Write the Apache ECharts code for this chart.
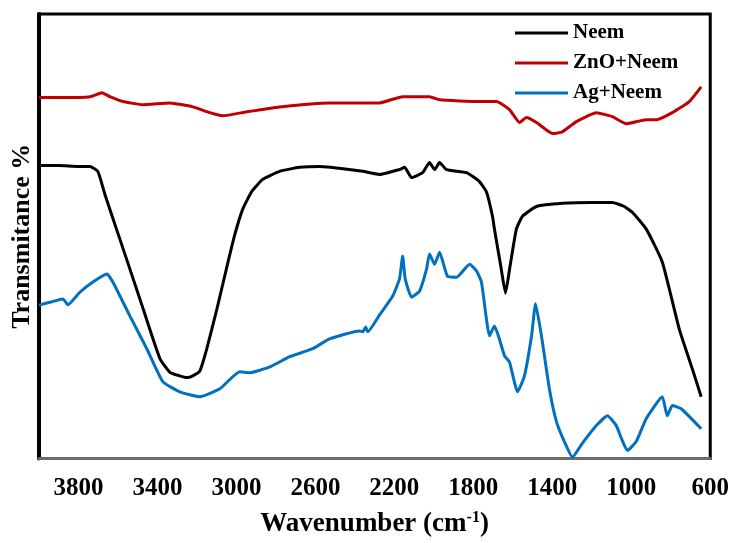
<!DOCTYPE html>
<html>
<head>
<meta charset="utf-8">
<script src="https://cdn.jsdelivr.net/npm/echarts@6/dist/echarts.min.js"></script>
<style>
  html, body { margin: 0; padding: 0; background: #fff; }
  #chart { width: 732px; height: 543px; }
</style>
</head>
<body>
<div id="chart"></div>
<script>
// FTIR spectra: wavenumber (cm-1) and transmittance (arbitrary %, offset per sample)
const neemWn = [4000, 3900, 3800, 3742, 3702, 3666, 3590, 3489, 3388, 3337, 3287, 3251, 3221, 3185, 3150, 3099, 3049, 3008, 2968, 2922, 2867, 2781, 2680, 2578, 2460, 2360, 2275, 2174, 2148, 2113, 2057, 2022, 1996, 1971, 1936, 1834, 1769, 1733, 1703, 1693, 1660, 1637, 1615, 1582, 1551, 1480, 1349, 1200, 1096, 1040, 995, 924, 843, 757, 691, 646];
const neemT  = [65.9, 65.9, 65.7, 65.7, 64.6, 59.4, 49.3, 35.9, 22.5, 19.4, 18.6, 18.2, 18.6, 19.7, 24.7, 33.6, 43.0, 50.4, 56.1, 60.1, 62.8, 64.6, 65.5, 65.7, 65.2, 64.6, 63.9, 65.0, 65.5, 63.2, 64.3, 66.6, 65.0, 66.6, 65.0, 64.3, 62.3, 59.9, 54.5, 51.6, 43.0, 37.2, 43.0, 51.6, 54.5, 56.7, 57.4, 57.6, 57.6, 56.8, 55.4, 51.6, 44.2, 29.1, 20.2, 13.9];

const znoWn = [4000, 3879, 3740, 3681, 3641, 3575, 3474, 3337, 3221, 3135, 3069, 2948, 2781, 2528, 2275, 2158, 2022, 1971, 1769, 1683, 1617, 1566, 1531, 1480, 1399, 1349, 1278, 1177, 1096, 1025, 924, 873, 792, 706, 646];
const znoT  = [81.2, 81.2, 81.4, 82.3, 81.4, 80.3, 79.6, 80.0, 79.1, 77.8, 77.1, 78.0, 79.1, 80.0, 80.0, 81.4, 81.4, 80.7, 80.3, 80.3, 78.5, 75.6, 76.7, 75.6, 73.1, 73.5, 75.8, 77.8, 76.9, 75.3, 76.2, 76.2, 77.8, 80.3, 83.6];

const agWn = [4000, 3940, 3879, 3853, 3793, 3727, 3656, 3626, 3540, 3454, 3373, 3287, 3185, 3084, 2983, 2932, 2831, 2730, 2614, 2528, 2376, 2360, 2345, 2335, 2275, 2209, 2174, 2158, 2145, 2113, 2072, 2037, 2022, 1996, 1971, 1931, 1885, 1819, 1784, 1759, 1718, 1693, 1668, 1642, 1617, 1576, 1541, 1505, 1485, 1455, 1415, 1379, 1339, 1298, 1248, 1177, 1121, 1076, 1050, 1020, 975, 924, 843, 818, 792, 747, 646];
const agT  = [34.5, 35.2, 35.9, 34.6, 37.4, 39.7, 41.5, 39.7, 32.1, 24.7, 17.3, 15.0, 13.9, 15.7, 19.5, 19.3, 20.6, 22.9, 24.7, 26.9, 28.7, 28.5, 29.6, 28.5, 32.3, 36.5, 40.4, 45.5, 40.4, 36.3, 37.7, 42.6, 46.0, 43.7, 46.4, 41.0, 40.8, 43.7, 42.2, 39.7, 27.6, 29.8, 26.9, 23.1, 21.7, 15.0, 18.6, 27.6, 34.8, 27.6, 15.7, 8.3, 3.8, 0.3, 3.4, 7.4, 9.6, 7.4, 4.5, 1.8, 3.8, 9.0, 13.9, 9.6, 11.9, 11.2, 6.7];

const seriesNames = ['Neem', 'ZnO+Neem', 'Ag+Neem'];
const seriesColors = ['#000000', '#C00000', '#0070C0'];

const pairs = (xs, ys) => xs.map((x, i) => [x, ys[i]]);
const seriesData = [pairs(neemWn, neemT), pairs(znoWn, znoT), pairs(agWn, agT)];

const serif = '"Liberation Serif", "Times New Roman", serif';

const chart = echarts.init(document.getElementById('chart'));
chart.setOption({
  animation: false,
  grid: {
    left: 39, right: 20, top: 14, bottom: 83,
    show: true, borderColor: '#000', borderWidth: 3, backgroundColor: 'transparent'
  },
  legend: {
    orient: 'vertical',
    left: 515, top: 22,
    padding: 0,
    icon: 'rect',
    itemWidth: 53, itemHeight: 3,
    itemGap: 8,
    textStyle: { fontFamily: serif, fontWeight: 'bold', fontSize: 21, color: '#000', lineHeight: 22 },
    data: seriesNames
  },
  xAxis: {
    type: 'value',
    inverse: true,
    min: 600, max: 4000, interval: 200,
    name: '{a|Wavenumber (cm}{s|-1}{a|)}',
    nameLocation: 'middle',
    nameGap: 51,
    nameTextStyle: {
      rich: {
        a: { fontFamily: serif, fontWeight: 'bold', fontSize: 27, color: '#000', lineHeight: 30 },
        s: { fontFamily: serif, fontWeight: 'bold', fontSize: 16, color: '#000', verticalAlign: 'top', lineHeight: 30 }
      }
    },
    axisLine: { lineStyle: { color: '#6b6b6b', width: 3 } },
    axisTick: { show: false },
    splitLine: { show: false },
    axisLabel: {
      margin: 18,
      fontFamily: serif, fontWeight: 'bold', fontSize: 25, color: '#000',
      formatter: v => ((v - 600) % 400 === 0 && v < 4000) ? String(v) : ''
    }
  },
  yAxis: {
    type: 'value',
    min: 0, max: 100,
    name: 'Transmitance %',
    nameLocation: 'middle',
    nameGap: 4,
    nameTextStyle: { fontFamily: serif, fontWeight: 'bold', fontSize: 26, color: '#000' },
    axisLine: { show: true, lineStyle: { color: '#000', width: 4 } },
    axisTick: { show: false },
    axisLabel: { show: false },
    splitLine: { show: false }
  },
  series: seriesNames.map((n, i) => ({
    name: n,
    type: 'line',
    data: seriesData[i],
    symbol: 'none',
    smooth: 0.15,
    lineStyle: { color: seriesColors[i], width: 3 },
    itemStyle: { color: seriesColors[i] }
  }))
});
</script>
</body>
</html>
